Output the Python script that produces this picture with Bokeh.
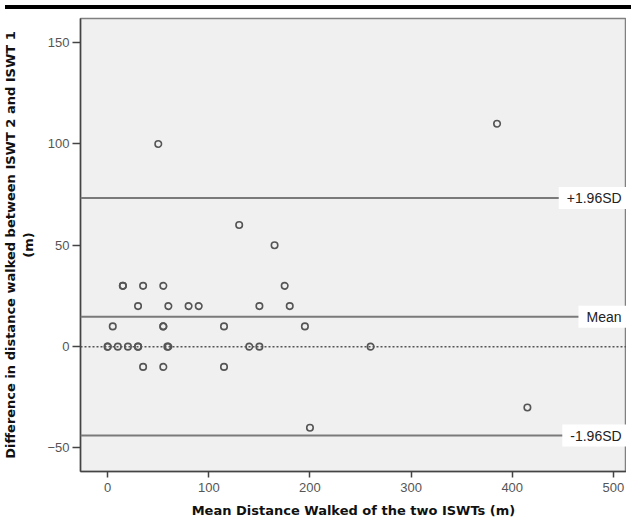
from bokeh.plotting import figure
from bokeh.models import Span, Label, Div, Range1d, FixedTicker
from bokeh.layouts import column
from bokeh.embed import file_html
from bokeh.resources import INLINE

# Mean distance walked of the two ISWTs (m) and difference ISWT2 - ISWT1 (m)
mean_distance = [0, 0, 10, 20, 30, 30, 60, 59, 140, 150, 260,
                 5, 55, 55, 115, 195,
                 30, 60, 80, 90, 150, 180,
                 15, 15, 35, 55, 175,
                 35, 55, 115,
                 50, 130, 165, 385, 415, 200]
difference = [0, 0, 0, 0, 0, 0, 0, 0, 0, 0, 0,
              10, 10, 10, 10, 10,
              20, 20, 20, 20, 20, 20,
              30, 30, 30, 30, 30,
              -10, -10, -10,
              100, 60, 50, 110, -30, -40]

mean_diff = 14.7
upper_loa = 73.3
lower_loa = -43.9
ref_labels = ["+1.96SD", "Mean", "-1.96SD"]
ref_values = [upper_loa, mean_diff, lower_loa]

x_ticks = [0, 100, 200, 300, 400, 500]
y_ticks = [-50, 0, 50, 100, 150]

p = figure(width=626, height=506, output_backend="svg", toolbar_location=None,
           x_range=Range1d(-26.9, 513.0), y_range=Range1d(-61.6, 161.9),
           min_border_left=78, min_border_top=4, min_border_right=0, min_border_bottom=47)

p.background_fill_color = "#f0f0f0"
p.border_fill_color = "white"
p.outline_line_color = "#808080"
p.outline_line_width = 1.5
p.xgrid.visible = False
p.ygrid.visible = False

# reference lines
for v in ref_values:
    p.add_layout(Span(location=v, dimension="width", line_color="#7a7a7a", line_width=2))
p.add_layout(Span(location=0, dimension="width", line_color="#555555",
                  line_width=1.5, line_dash="2 2"))

p.scatter(mean_distance, difference, marker="circle", size=6.5,
          fill_color=None, line_color="#555555", line_width=1.6)

label_x = [446.0, 465.5, 449.5]
for txt, v, lx in zip(ref_labels, ref_values, label_x):
    p.add_layout(Label(x=lx, y=v, text=txt, text_baseline="middle", text_align="left",
                       text_font="Liberation Sans", text_font_size="14px",
                       text_color="#222222", background_fill_color="white",
                       padding=(8, 3)))

for ax in (p.xaxis, p.yaxis):
    ax.axis_line_color = "#444444"
    ax.axis_line_width = 1.5
    ax.major_tick_line_color = "#444444"
    ax.major_tick_line_width = 1.5
    ax.major_tick_in = 0
    ax.minor_tick_line_color = None
    ax.major_label_text_font = "Liberation Sans"
    ax.major_label_text_font_size = "13px"
    ax.major_label_text_color = "#555555"
    ax.axis_label_text_font = "DejaVu Sans"
    ax.axis_label_text_font_style = "bold"
    ax.axis_label_text_font_size = "13px"
    ax.axis_label_text_color = "#111111"

p.xaxis.ticker = FixedTicker(ticks=x_ticks)
p.yaxis.ticker = FixedTicker(ticks=y_ticks)
p.xaxis.major_tick_out = 6
p.yaxis.major_tick_out = 8
p.xaxis.major_label_standoff = 5
p.yaxis.major_label_standoff = 3
p.xaxis.axis_label_standoff = 8
p.yaxis.axis_label_standoff = 8
p.xaxis.axis_label = "Mean Distance Walked of the two ISWTs (m)"
p.yaxis.axis_label = "Difference in distance walked between ISWT 2 and ISWT 1\n(m)"

bar = Div(text="", width=626, height=4, styles={"background-color": "black"})

layout = column(bar, p, spacing=0)
open("out.html", "w").write(file_html(layout, INLINE))
